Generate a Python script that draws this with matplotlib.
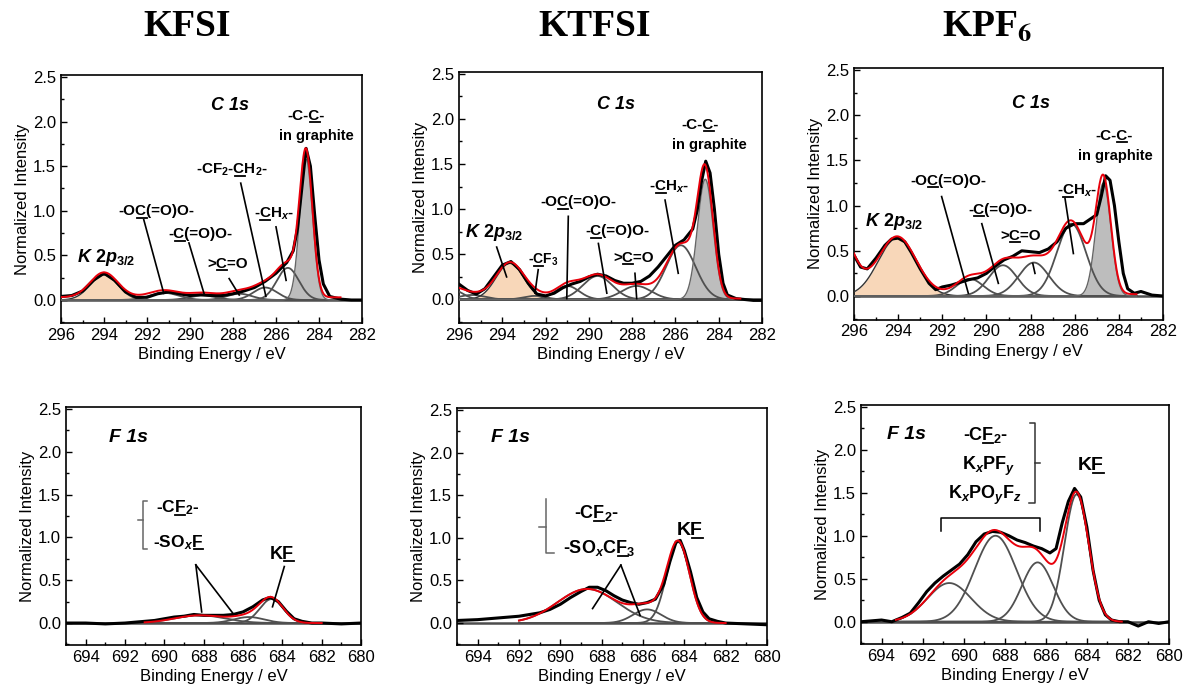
import numpy as np
import matplotlib
matplotlib.use("Agg")
import matplotlib.pyplot as plt
from matplotlib.lines import Line2D
from matplotlib.ticker import MultipleLocator, FormatStrFormatter
from matplotlib.transforms import IdentityTransform

plt.rcParams.update({
    "font.family": ["Liberation Sans", "DejaVu Sans"],
    "font.size": 11,
    "mathtext.fontset": "custom",
    "mathtext.rm": "Liberation Sans:bold",
    "mathtext.it": "Liberation Sans:italic:bold",
    "mathtext.bf": "Liberation Sans:bold",
})

# ---- fitted components (centre eV, height, FWHM eV, kind) ----
# kind: k = K 2p filled, g = graphite filled, l = plain line, n = not drawn
kfsi_c1s_pos = [294.0, 291.2, 289.4, 287.7, 286.5, 285.45, 284.6]
kfsi_c1s_hgt = [0.28, 0.08, 0.05, 0.07, 0.14, 0.36, 1.58]
kfsi_c1s_fwhm = [1.5, 1.6, 1.5, 1.4, 1.3, 1.2, 0.7]
kfsi_c1s_kind = ["k", "l", "l", "l", "l", "l", "g"]

ktfsi_c1s_pos = [296.4, 295.4, 293.65, 292.5, 291.0, 289.6, 287.8, 285.75, 284.62]
ktfsi_c1s_hgt = [0.12, 0.05, 0.40, 0.04, 0.15, 0.26, 0.15, 0.60, 1.33]
ktfsi_c1s_fwhm = [1.2, 1.4, 1.5, 1.2, 1.3, 1.6, 1.6, 1.6, 0.85]
ktfsi_c1s_kind = ["l", "l", "k", "l", "l", "l", "l", "l", "g"]

kpf6_c1s_pos = [296.9, 294.05, 290.75, 289.25, 287.85, 286.15, 284.7]
kpf6_c1s_hgt = [0.88, 0.64, 0.19, 0.34, 0.37, 0.80, 1.25]
kpf6_c1s_fwhm = [1.7, 2.0, 1.4, 1.5, 1.6, 1.55, 0.8]
kpf6_c1s_kind = ["n", "k", "l", "l", "l", "l", "g"]

kfsi_f1s_pos = [688.2, 685.7, 684.55]
kfsi_f1s_hgt = [0.09, 0.07, 0.28]
kfsi_f1s_fwhm = [3.0, 1.8, 1.4]
kfsi_f1s_kind = ["l", "l", "l"]

ktfsi_f1s_pos = [688.7, 685.8, 684.3]
ktfsi_f1s_hgt = [0.40, 0.16, 0.95]
ktfsi_f1s_fwhm = [3.4, 1.6, 1.3]
ktfsi_f1s_kind = ["l", "l", "l"]

kpf6_f1s_pos = [690.7, 688.45, 686.4, 684.5]
kpf6_f1s_hgt = [0.45, 1.00, 0.69, 1.48]
kpf6_f1s_fwhm = [2.5, 2.4, 1.8, 1.4]
kpf6_f1s_kind = ["l", "l", "l", "l"]

# ---- measured spectra (binding energy, normalized intensity) ----
kfsi_c1s_be = [296, 295.5, 295, 294.5, 294, 293.5, 293, 292.5, 292, 291.5, 291, 290.5,
               290, 289.5, 289, 288.5, 288, 287.5, 287, 286.5, 286, 285.5, 285.2, 285,
               284.8, 284.6, 284.4, 284.2, 284, 283.8, 283.5, 283, 282.5, 282]
kfsi_c1s_int = [0.04, 0.05, 0.10, 0.22, 0.30, 0.22, 0.09, 0.03, 0.03, 0.07, 0.09, 0.07,
                0.05, 0.06, 0.05, 0.05, 0.07, 0.10, 0.14, 0.21, 0.30, 0.42, 0.55, 0.80,
                1.25, 1.70, 1.50, 0.95, 0.45, 0.18, 0.04, 0.01, 0.0, 0.0]

ktfsi_c1s_be = [296, 295.6, 295.2, 294.8, 294.4, 294.0, 293.6, 293.2, 292.8, 292.4, 292.0,
                291.6, 291.2, 290.8, 290.4, 290.0, 289.6, 289.2, 288.8, 288.4, 288.0, 287.6,
                287.2, 286.8, 286.4, 286.0, 285.6, 285.2, 285.0, 284.8, 284.6, 284.4, 284.2,
                284.0, 283.8, 283.6, 283.2, 282.8, 282.4, 282.0]
ktfsi_c1s_int = [0.17, 0.10, 0.06, 0.12, 0.25, 0.38, 0.42, 0.33, 0.18, 0.06, 0.04,
                 0.07, 0.13, 0.17, 0.20, 0.25, 0.28, 0.26, 0.21, 0.18, 0.18, 0.20,
                 0.26, 0.36, 0.48, 0.60, 0.66, 0.78, 0.98, 1.30, 1.53, 1.40, 1.00,
                 0.50, 0.18, 0.05, 0.01, 0.0, -0.01, -0.01]

kpf6_c1s_be = [296, 295.7, 295.4, 295.0, 294.6, 294.3, 294.0, 293.7, 293.4, 293.0, 292.6,
               292.3, 292.0, 291.6, 291.2, 290.8, 290.4, 290.0, 289.6, 289.2, 288.8, 288.4,
               288.0, 287.6, 287.2, 286.8, 286.4, 286.0, 285.6, 285.3, 285.0, 284.8, 284.6,
               284.4, 284.2, 284.0, 283.8, 283.6, 283.3, 283.0, 282.5, 282.0]
kpf6_c1s_int = [0.45, 0.32, 0.30, 0.42, 0.56, 0.63, 0.64, 0.60, 0.48, 0.30, 0.14,
                0.07, 0.10, 0.12, 0.15, 0.18, 0.20, 0.25, 0.33, 0.40, 0.44, 0.50,
                0.49, 0.48, 0.52, 0.60, 0.75, 0.80, 0.80, 0.85, 0.90, 1.10, 1.33,
                1.28, 1.00, 0.60, 0.25, 0.08, 0.03, 0.05, 0.01, 0.00]

kfsi_f1s_be = [695, 694, 693, 692, 691.5, 691, 690.5, 690, 689.5, 689, 688.5, 688, 687.5,
               687, 686.5, 686, 685.5, 685, 684.6, 684.2, 683.8, 683.4, 683, 682.5, 682,
               681, 680]
kfsi_f1s_int = [0.0, 0.0, -0.01, 0.0, 0.01, 0.02, 0.03, 0.05, 0.07, 0.08, 0.10, 0.09, 0.09,
                0.09, 0.10, 0.13, 0.19, 0.27, 0.30, 0.25, 0.14, 0.05, 0.02, 0.0, 0.0,
                -0.01, 0.0]

ktfsi_f1s_be = [695, 694, 693, 692, 691.5, 691, 690.5, 690, 689.5, 689, 688.6, 688.2, 687.8,
                687.4, 687.0, 686.6, 686.2, 685.8, 685.4, 685.0, 684.7, 684.4, 684.2, 684.0,
                683.7, 683.4, 683.1, 682.8, 682.4, 682, 681, 680]
ktfsi_f1s_int = [0.03, 0.04, 0.06, 0.08, 0.10, 0.12, 0.16, 0.22, 0.30, 0.37, 0.42, 0.42, 0.38,
                 0.32, 0.27, 0.24, 0.22, 0.24, 0.28, 0.45, 0.72, 0.95, 0.97, 0.85,
                 0.60, 0.30, 0.13, 0.05, 0.02, 0.0, -0.01, -0.02]

kpf6_f1s_be = [695, 694, 693.5, 693, 692.6, 692.2, 691.8, 691.4, 691.0, 690.6, 690.2, 689.8,
               689.4, 689.0, 688.6, 688.2, 687.8, 687.4, 687.0, 686.6, 686.2, 685.8, 685.5,
               685.2, 684.9, 684.6, 684.3, 684.0, 683.7, 683.4, 683.1, 682.8, 682.4, 682,
               681.5, 681, 680.5, 680]
kpf6_f1s_int = [0.0, 0.02, 0.0, 0.05, 0.10, 0.22, 0.35, 0.45, 0.53, 0.60, 0.67, 0.78,
                0.93, 1.02, 1.05, 1.04, 1.00, 0.95, 0.92, 0.88, 0.85, 0.80, 0.85,
                1.15, 1.40, 1.55, 1.45, 1.10, 0.60, 0.25, 0.08, 0.02, 0.0, 0.0,
                -0.05, 0.0, -0.02, 0.0]

column_titles = ["KFSI", "KTFSI", "KPF$_\\mathbf{6}$"]

# ---- layout: axes rectangles in pixels (left, top, right, bottom) ----
W, H = 1191, 693
rects = [(61, 75.2, 362, 323.2), (459, 71.7, 762, 323), (854, 68.2, 1163, 319.5),
         (66, 407.3, 361, 645.3), (457, 408.3, 767, 645.2), (861, 405, 1169, 644.1)]

fig = plt.figure(figsize=(W / 100, H / 100), dpi=100)


def gauss(e, c, h, w):
    return h * np.exp(-4 * np.log(2) * ((e - c) / w) ** 2)


def text_width(s, size, style, r):
    t = fig.text(0, 0, s, fontsize=size, fontweight="bold", fontstyle=style)
    w = t.get_window_extent(r).width
    t.remove()
    return w


def ulabel(ax, x, y, parts, under=None, size=11, style="normal"):
    ax.text(x, y, "".join(parts), fontsize=size, fontweight="bold", fontstyle=style,
            ha="left", va="baseline", zorder=8)
    if under is None:
        return
    r = fig.canvas.get_renderer()
    x0, y0 = ax.transData.transform((x, y))
    a = text_width("".join(parts[:under]), size, style, r) if under else 0
    b = text_width("".join(parts[:under + 1]), size, style, r)
    fig.add_artist(Line2D([x0 + a + 1, x0 + b], [y0 - 2.5, y0 - 2.5],
                          transform=IdentityTransform(), color="black", lw=1.3))


def draw_panel(ax, xlim, be, inten, pos, hgt, fwhm, kind, span, bg):
    ax.set_xlim(*xlim)
    ax.set_ylim(-0.26, 2.52)
    e = np.linspace(span[0], span[1], 800)
    comps = [gauss(e, c, h, w) for c, h, w in zip(pos, hgt, fwhm)]
    fit = bg + np.sum(comps, axis=0)
    ax.axhline(0, color="#4d4d4d", lw=1.8, zorder=1)
    for y, k in zip(comps, kind):
        if k == "k":
            ax.fill_between(e, 0, y, color="#f8d7b9", lw=0, zorder=2)
            ax.plot(e, y, color="#333333", lw=1.0, zorder=3)
        elif k == "g":
            ax.fill_between(e, 0, y, color="#bdbdbd", lw=0, zorder=2)
            ax.plot(e, y, color="#666666", lw=1.0, zorder=3)
        elif k == "l":
            ax.plot(e, y, color="#505050", lw=1.3, zorder=3)
    ax.plot(be, inten, color="black", lw=2.2, zorder=4)
    ax.plot(e, fit, color="#e8000b", lw=1.4, zorder=5)

    ax.xaxis.set_major_locator(MultipleLocator(2))
    ax.xaxis.set_minor_locator(MultipleLocator(1))
    ax.yaxis.set_major_locator(MultipleLocator(0.5))
    ax.yaxis.set_minor_locator(MultipleLocator(0.25))
    ax.xaxis.set_major_formatter(FormatStrFormatter("%d"))
    ax.yaxis.set_major_formatter(FormatStrFormatter("%.1f"))
    ax.tick_params(which="both", direction="in", top=False, right=False, labelsize=12)
    ax.tick_params(which="major", length=4, width=1)
    ax.tick_params(which="minor", length=2.5, width=1)
    for s in ax.spines.values():
        s.set_linewidth(1.2)
    ax.set_xlabel("Binding Energy / eV", fontsize=12, labelpad=3)
    ax.set_ylabel("Normalized Intensity", fontsize=12, labelpad=2)


axes = []
for (l, t, r, b) in rects:
    axes.append(fig.add_axes([l / W, (H - b) / H, (r - l) / W, (b - t) / H]))

c_lim = (296, 282)
f_lim = (695, 680)
draw_panel(axes[0], c_lim, kfsi_c1s_be, kfsi_c1s_int, kfsi_c1s_pos, kfsi_c1s_hgt,
           kfsi_c1s_fwhm, kfsi_c1s_kind, (296, 283.0), 0.03)
draw_panel(axes[1], c_lim, ktfsi_c1s_be, ktfsi_c1s_int, ktfsi_c1s_pos, ktfsi_c1s_hgt,
           ktfsi_c1s_fwhm, ktfsi_c1s_kind, (296, 283.0), 0.01)
draw_panel(axes[2], c_lim, kpf6_c1s_be, kpf6_c1s_int, kpf6_c1s_pos, kpf6_c1s_hgt,
           kpf6_c1s_fwhm, kpf6_c1s_kind, (296, 283.2), 0.02)
draw_panel(axes[3], f_lim, kfsi_f1s_be, kfsi_f1s_int, kfsi_f1s_pos, kfsi_f1s_hgt,
           kfsi_f1s_fwhm, kfsi_f1s_kind, (691, 682), 0.0)
draw_panel(axes[4], f_lim, ktfsi_f1s_be, ktfsi_f1s_int, ktfsi_f1s_pos, ktfsi_f1s_hgt,
           ktfsi_f1s_fwhm, ktfsi_f1s_kind, (692, 682), 0.0)
draw_panel(axes[5], f_lim, kpf6_f1s_be, kpf6_f1s_int, kpf6_f1s_pos, kpf6_f1s_hgt,
           kpf6_f1s_fwhm, kpf6_f1s_kind, (693.3, 682.3), 0.0)

# ---- annotations ----
K2P = [r"$\mathit{K\ 2p_{3/2}}$"]
labels = [
    [(289.04, 2.13, ["C 1s"], None, 13, "italic"),
     (285.45, 2.02, ["-C-", "C", "-"], 1, 11, "normal"),
     (285.85, 1.79, ["in graphite"], None, 10.5, "normal"),
     (289.74, 1.42, ["-CF$_2$-", "C", "H$_2$-"], 1, 11, "normal"),
     (287.01, 0.92, ["-", "C", "H$_x$-"], 1, 11, "normal"),
     (293.32, 0.95, ["-O", "C", "(=O)O-"], 1, 11, "normal"),
     (290.99, 0.69, ["-", "C", "(=O)O-"], 1, 11, "normal"),
     (289.19, 0.36, [">", "C", "=O"], 1, 11, "normal"),
     (295.27, 0.43, K2P, None, 13, "normal")],
    [(289.64, 2.11, ["C 1s"], None, 13, "italic"),
     (285.71, 1.89, ["-C-", "C", "-"], 1, 11, "normal"),
     (286.17, 1.67, ["in graphite"], None, 10.5, "normal"),
     (287.2, 1.21, ["-", "C", "H$_x$-"], 1, 11, "normal"),
     (292.26, 1.03, ["-O", "C", "(=O)O-"], 1, 11, "normal"),
     (290.18, 0.71, ["-", "C", "(=O)O-"], 1, 11, "normal"),
     (288.87, 0.42, [">", "C", "=O"], 1, 11, "normal"),
     (292.8, 0.40, ["-", "C", "F$_3$"], 1, 10, "normal"),
     (295.72, 0.69, K2P, None, 13, "normal")],
    [(288.85, 2.08, ["C 1s"], None, 13, "italic"),
     (285.08, 1.73, ["-C-", "C", "-"], 1, 11, "normal"),
     (285.84, 1.50, ["in graphite"], None, 10.5, "normal"),
     (286.82, 1.12, ["-", "C", "H$_x$-"], 1, 11, "normal"),
     (293.46, 1.23, ["-O", "C", "(=O)O-"], 1, 11, "normal"),
     (290.82, 0.91, ["-", "C", "(=O)O-"], 1, 11, "normal"),
     (289.38, 0.62, [">", "C", "=O"], 1, 11, "normal"),
     (295.5, 0.77, K2P, None, 13, "normal")],
    [(692.82, 2.11, ["F 1s"], None, 14, "italic"),
     (690.43, 1.29, ["-C", "F", "$_2$-"], 1, 12.5, "normal"),
     (690.6, 0.89, ["-SO$_x$", "F"], 1, 12.5, "normal"),
     (684.65, 0.75, ["K", "F"], 1, 13, "normal")],
    [(693.34, 2.12, ["F 1s"], None, 14, "italic"),
     (689.33, 1.23, ["-C", "F", "$_2$-"], 1, 13, "normal"),
     (689.87, 0.82, ["-SO$_x$C", "F", "$_3$"], 1, 13, "normal"),
     (684.36, 1.03, ["K", "F"], 1, 14, "normal")],
    [(693.71, 2.12, ["F 1s"], None, 14, "italic"),
     (690.04, 2.11, ["-C", "F", "$_2$-"], 1, 13, "normal"),
     (690.09, 1.76, ["K$_x$PF$_y$"], None, 13, "normal"),
     (690.78, 1.43, ["K$_x$PO$_y$F$_z$"], None, 13, "normal"),
     (684.45, 1.76, ["K", "F"], 1, 14, "normal")],
]

leaders = [
    [((292.15, 0.90), (291.22, 0.075)), ((290.05, 0.64), (289.35, 0.075)),
     ((288.18, 0.24), (287.71, 0.056)), ((287.64, 1.31), (286.47, 0.04)),
     ((286.0, 0.82), (285.53, 0.22))],
    [((294.26, 0.58), (293.8, 0.25)), ((292.34, 0.33), (292.49, 0.07)),
     ((290.95, 0.92), (291.02, 0.01)), ((289.56, 0.62), (289.17, 0.07)),
     ((287.87, 0.29), (287.79, 0.01)), ((286.48, 1.10), (285.87, 0.29))],
    [((292.03, 1.10), (290.82, 0.03)), ((290.21, 0.80), (289.46, 0.14)),
     ((287.9, 0.36), (287.8, 0.25)), ((286.44, 1.08), (286.06, 0.47))],
    [((688.4, 0.68), (688.1, 0.13)), ((688.4, 0.68), (686.5, 0.11)),
     ((683.9, 0.66), (684.5, 0.19))],
    [((687.07, 0.68), (688.44, 0.17)), ((687.07, 0.68), (686.14, 0.09))],
    [],
]

brackets = [
    [], [], [],
    [("#666666", [(690.86, 1.43), (691.08, 1.43), (691.08, 0.87), (690.86, 0.87)]),
     ("#666666", [(691.08, 1.20), (691.32, 1.20)])],
    [("#666666", [(690.67, 1.46), (690.67, 0.82), (690.33, 0.82)]),
     ("#666666", [(690.67, 1.13), (691.03, 1.13)])],
    [("#333333", [(686.76, 2.31), (686.52, 2.31), (686.52, 1.38), (686.8, 1.38)]),
     ("#333333", [(686.52, 1.84), (686.27, 1.84)]),
     ("black", [(691.10, 1.06), (691.10, 1.21), (686.30, 1.21), (686.30, 1.06)])],
]

for ax, labs, leads, brs in zip(axes, labels, leaders, brackets):
    for (p, q) in leads:
        ax.plot([p[0], q[0]], [p[1], q[1]], color="black", lw=1.2, zorder=7)
    for col, pts in brs:
        ax.plot([p[0] for p in pts], [p[1] for p in pts], color=col, lw=1.1, zorder=7)
    for x, y, parts, u, size, style in labs:
        ulabel(ax, x, y, parts, u, size, style)

for cx, title in zip([187, 595, 987], column_titles):
    fig.text(cx / W, 1 - 36 / H, title, fontfamily="Liberation Serif", fontweight="bold",
             fontsize=27, ha="center", va="baseline", math_fontfamily="stix")

fig.savefig("out.png", dpi=100)
